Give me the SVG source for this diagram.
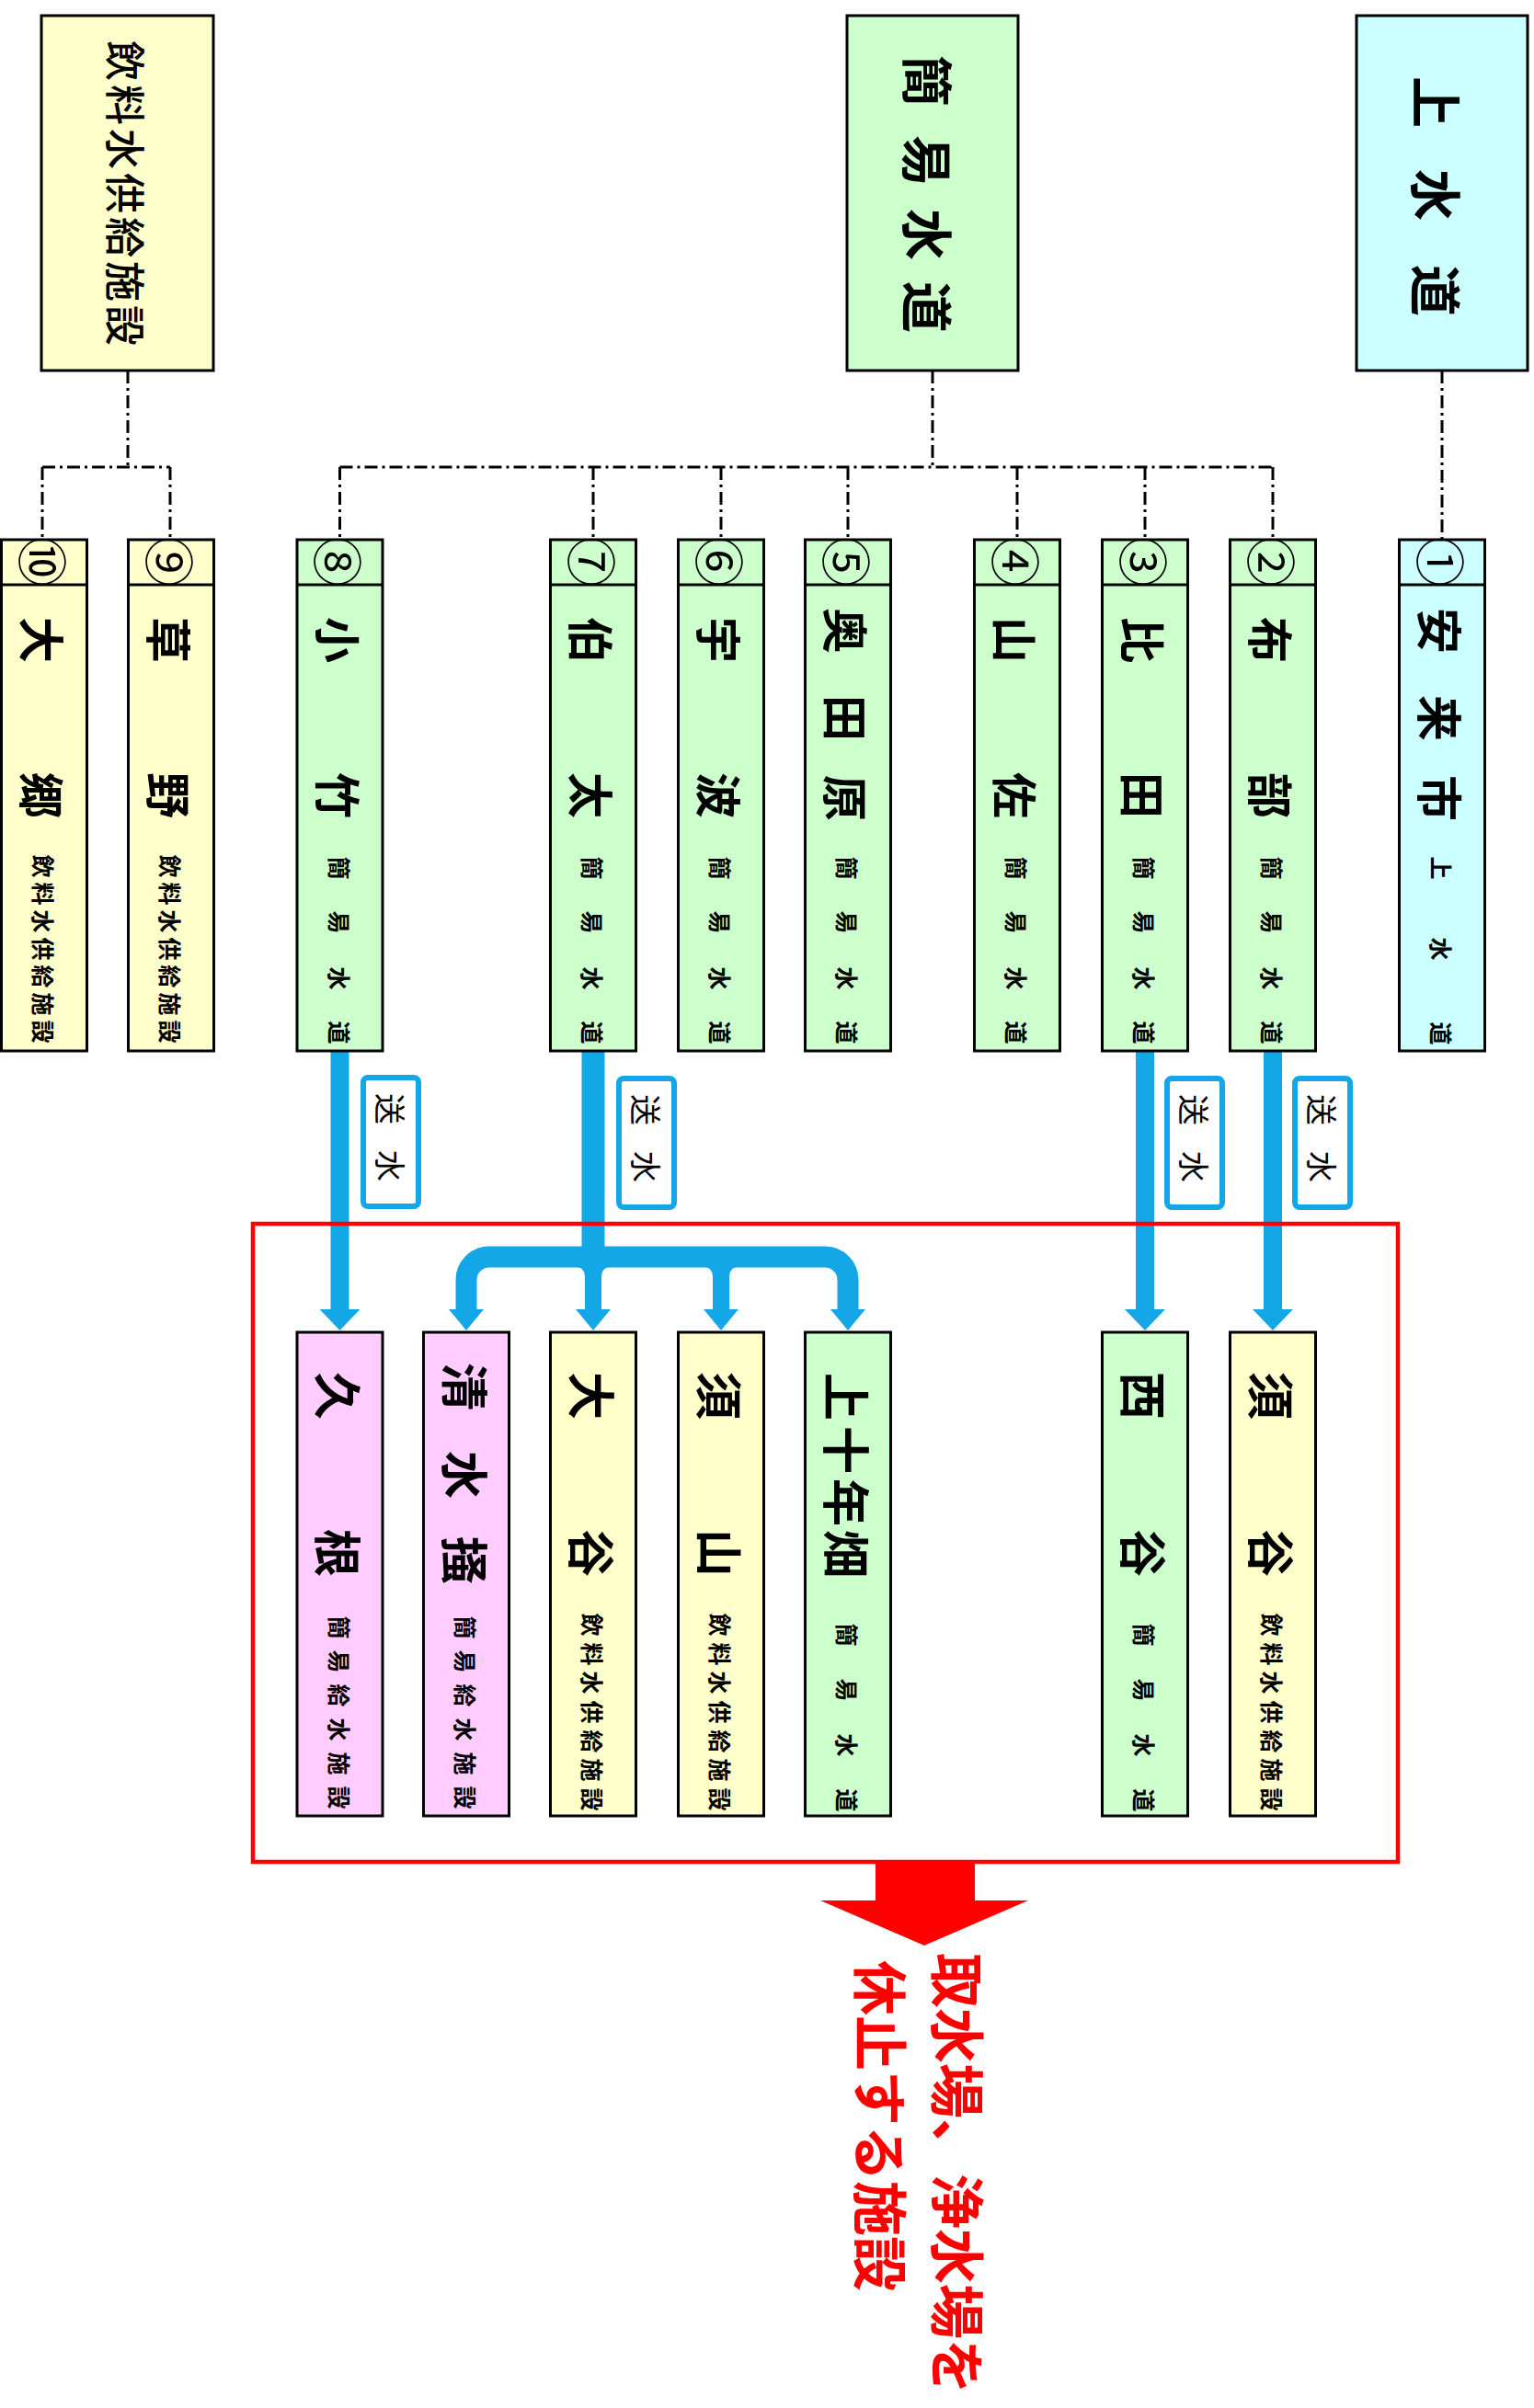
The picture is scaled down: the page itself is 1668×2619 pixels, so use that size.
<svg xmlns="http://www.w3.org/2000/svg" width="1668" height="2619" viewBox="0 0 1668 2619">
<style>
.box{stroke:#000;stroke-width:3}
.y{fill:#FFFFCC}.g{fill:#CCFFCC}.c{fill:#CCFFFF}.p{fill:#FFCCFF}
.div{stroke:#000;stroke-width:3}
.t{font-family:"Noto Sans CJK JP","Noto Sans CJK SC",sans-serif;text-anchor:middle;dominant-baseline:central;fill:#000}
.big{font-size:50px;font-weight:bold}
.big2{font-size:52px;font-weight:bold}
.sm{font-size:25px;font-weight:bold}
.sm2{font-size:25px;font-weight:bold}
.num{font-size:54px}
.dd{fill:none;stroke:#000;stroke-width:3;stroke-dasharray:14 5 3 5}
.bl{fill:none;stroke:#14A7E8}
.bf{fill:#14A7E8}
.sui{fill:#fff;stroke:#14A7E8;stroke-width:6}
.red{fill:#FF0000}
</style>
<rect width="1668" height="2619" fill="#fff"/>

<g id="connectors">
  <path class="dd" d="M139 403 V508 M46 508 H185 M46 508 V587 M185 508 V587"/>
  <path class="dd" d="M1014 403 V508 M369.5 508 H1384 M369.5 508 V587 M645 508 V587 M784 508 V587 M922 508 V587 M1106 508 V587 M1245 508 V587 M1384 508 V587"/>
  <path class="dd" d="M1568 403 V587"/>
  <path class="bl" stroke-width="20" d="M369.5 1143 V1426 M1245 1143 V1426 M1384 1143 V1426"/>
  <path class="bl" stroke-width="25" d="M645 1143 V1368"/>
  <path class="bl" stroke-width="23" d="M507 1426 V1392 A25 25 0 0 1 532 1367 H897 A25 25 0 0 1 922 1392 V1426"/>
  <path class="bf" d="M626 1378 Q636 1378 636 1390 V1426 H654 V1390 Q654 1378 664 1378 Z"/>
  <path class="bf" d="M765 1378 Q775 1378 775 1390 V1426 H793 V1390 Q793 1378 803 1378 Z"/>
  <polygon class="bf" points="347.5,1424 391.5,1424 369.5,1447"/>
  <polygon class="bf" points="1223,1424 1267,1424 1245,1447"/>
  <polygon class="bf" points="1362,1424 1406,1424 1384,1447"/>
  <polygon class="bf" points="488,1424 526,1424 507,1447"/>
  <polygon class="bf" points="626,1424 664,1424 645,1447"/>
  <polygon class="bf" points="765,1424 803,1424 784,1447"/>
  <polygon class="bf" points="903,1424 941,1424 922,1447"/>
</g>

<g id="labels">
  <g id="sousui-8"><rect class="sui" x="395" y="1172" width="60" height="140" rx="5"/><text class="t" style="font-size:34px" transform="translate(425 0) rotate(90)" x="1206 1268">送水</text></g>
  <g id="sousui-7"><rect class="sui" x="673" y="1173" width="60" height="140" rx="5"/><text class="t" style="font-size:34px" transform="translate(703 0) rotate(90)" x="1207 1269">送水</text></g>
  <g id="sousui-3"><rect class="sui" x="1269" y="1173" width="60" height="140" rx="5"/><text class="t" style="font-size:34px" transform="translate(1299 0) rotate(90)" x="1207 1269">送水</text></g>
  <g id="sousui-2"><rect class="sui" x="1408" y="1173" width="60" height="140" rx="5"/><text class="t" style="font-size:34px" transform="translate(1438 0) rotate(90)" x="1207 1269">送水</text></g>
</g>

<g id="top-inryo"><rect class="box y" stroke-width="4" x="45" y="17" width="187" height="386"/><text class="t" style="font-size:44px;font-weight:500" transform="translate(138 0) rotate(90)" x="66 114 162 210 258 306 354">飲料水供給施設</text></g>
<g id="top-kani"><rect class="box g" stroke-width="4" x="921" y="17" width="186" height="386"/><text class="t" style="font-size:56px;font-weight:bold" transform="translate(1011 0) rotate(90)" x="88 175 255 334">簡易水道</text></g>
<g id="top-josui"><rect class="box c" stroke-width="4" x="1475" y="17" width="186" height="386"/><text class="t" style="font-size:56px;font-weight:bold" transform="translate(1564 0) rotate(90)" x="111 212 316">上水道</text></g>

<g id="n1"><rect class="box c" x="1521.5" y="587" width="93" height="556"/><path class="div" d="M1521.5 636 H1614.5"/><text class="t num" transform="translate(1568 0) rotate(90)" x="611">①</text><text class="t big" transform="translate(1568 0) rotate(90)" x="686 781 868">安来市</text><text class="t sm" transform="translate(1568 0) rotate(90)" x="944 1032 1124">上水道</text></g>
<g id="n2"><rect class="box g" x="1337.5" y="587" width="93" height="556"/><path class="div" d="M1337.5 636 H1430.5"/><text class="t num" transform="translate(1384 0) rotate(90)" x="611">②</text><text class="t big" transform="translate(1384 0) rotate(90)" x="696 865">布部</text><text class="t sm" transform="translate(1384 0) rotate(90)" x="944 1003 1064 1123">簡易水道</text></g>
<g id="n3"><rect class="box g" x="1198.5" y="587" width="93" height="556"/><path class="div" d="M1198.5 636 H1291.5"/><text class="t num" transform="translate(1245 0) rotate(90)" x="611">③</text><text class="t big" transform="translate(1245 0) rotate(90)" x="696 865">比田</text><text class="t sm" transform="translate(1245 0) rotate(90)" x="944 1003 1064 1123">簡易水道</text></g>
<g id="n4"><rect class="box g" x="1059.5" y="587" width="93" height="556"/><path class="div" d="M1059.5 636 H1152.5"/><text class="t num" transform="translate(1106 0) rotate(90)" x="611">④</text><text class="t big" transform="translate(1106 0) rotate(90)" x="696 865">山佐</text><text class="t sm" transform="translate(1106 0) rotate(90)" x="944 1003 1064 1123">簡易水道</text></g>
<g id="n5"><rect class="box g" x="875.5" y="587" width="93" height="556"/><path class="div" d="M875.5 636 H968.5"/><text class="t num" transform="translate(922 0) rotate(90)" x="611">⑤</text><text class="t big" transform="translate(922 0) rotate(90)" x="686 781 868">奥田原</text><text class="t sm" transform="translate(922 0) rotate(90)" x="944 1003 1064 1123">簡易水道</text></g>
<g id="n6"><rect class="box g" x="737.5" y="587" width="93" height="556"/><path class="div" d="M737.5 636 H830.5"/><text class="t num" transform="translate(784 0) rotate(90)" x="611">⑥</text><text class="t big" transform="translate(784 0) rotate(90)" x="696 865">宇波</text><text class="t sm" transform="translate(784 0) rotate(90)" x="944 1003 1064 1123">簡易水道</text></g>
<g id="n7"><rect class="box g" x="598.5" y="587" width="93" height="556"/><path class="div" d="M598.5 636 H691.5"/><text class="t num" transform="translate(645 0) rotate(90)" x="611">⑦</text><text class="t big" transform="translate(645 0) rotate(90)" x="696 865">伯太</text><text class="t sm" transform="translate(645 0) rotate(90)" x="944 1003 1064 1123">簡易水道</text></g>
<g id="n8"><rect class="box g" x="323" y="587" width="93" height="556"/><path class="div" d="M323 636 H416"/><text class="t num" transform="translate(369.5 0) rotate(90)" x="611">⑧</text><text class="t big" transform="translate(369.5 0) rotate(90)" x="696 865">小竹</text><text class="t sm" transform="translate(369.5 0) rotate(90)" x="944 1003 1064 1123">簡易水道</text></g>
<g id="n9"><rect class="box y" x="139.5" y="587" width="93" height="556"/><path class="div" d="M139.5 636 H232.5"/><text class="t num" transform="translate(186 0) rotate(90)" x="611">⑨</text><text class="t big" transform="translate(186 0) rotate(90)" x="696 865">草野</text><text class="t sm2" transform="translate(186 0) rotate(90)" x="942 972 1002 1032 1062 1092 1122">飲料水供給施設</text></g>
<g id="n10"><rect class="box y" x="1.5" y="587" width="93" height="556"/><path class="div" d="M1.5 636 H94.5"/><text class="t num" transform="translate(48 0) rotate(90)" x="611">⑩</text><text class="t big" transform="translate(48 0) rotate(90)" x="696 865">大郷</text><text class="t sm2" transform="translate(48 0) rotate(90)" x="942 972 1002 1032 1062 1092 1122">飲料水供給施設</text></g>

<g id="stop-area">
  <rect x="275" y="1331" width="1245" height="694" fill="none" stroke="#FF0000" stroke-width="4.5"/>
  <polygon class="red" points="952,2023 1060,2023 1060,2067 1118,2067 1005,2116 892,2067 952,2067"/>
  <text class="t" style="font-size:60px;font-weight:bold;fill:#FF0000;text-anchor:start" transform="translate(1044 0) rotate(90)" x="2124">取水場、浄水場を</text>
  <text class="t" style="font-size:60px;font-weight:bold;fill:#FF0000;text-anchor:start" transform="translate(960 0) rotate(90)" x="2132">休止する施設</text>
</g>

<g id="kune"><rect class="box p" x="323" y="1449" width="93" height="526"/><text class="t big2" transform="translate(369.5 0) rotate(90)" x="1518 1689">久根</text><text class="t sm2" transform="translate(369.5 0) rotate(90)" x="1770 1807 1844 1881 1918 1955">簡易給水施設</text></g>
<g id="shimizukaki"><rect class="box p" x="460.5" y="1449" width="93" height="526"/><text class="t big2" transform="translate(507 0) rotate(90)" x="1508 1604 1697">清水掻</text><text class="t sm2" transform="translate(507 0) rotate(90)" x="1770 1807 1844 1881 1918 1955">簡易給水施設</text></g>
<g id="otani"><rect class="box y" x="598.5" y="1449" width="93" height="526"/><text class="t big2" transform="translate(645 0) rotate(90)" x="1518 1689">大谷</text><text class="t sm2" transform="translate(645 0) rotate(90)" x="1767 1799 1830 1862 1894 1925 1957">飲料水供給施設</text></g>
<g id="suyama"><rect class="box y" x="737.5" y="1449" width="93" height="526"/><text class="t big2" transform="translate(784 0) rotate(90)" x="1518 1689">須山</text><text class="t sm2" transform="translate(784 0) rotate(90)" x="1767 1799 1830 1862 1894 1925 1957">飲料水供給施設</text></g>
<g id="kamijunenbata"><rect class="box g" x="875.5" y="1449" width="93" height="526"/><text class="t big2" transform="translate(922 0) rotate(90)" x="1519 1577 1634 1690">上十年畑</text><text class="t sm" transform="translate(922 0) rotate(90)" x="1778 1838 1898 1958">簡易水道</text></g>
<g id="nishitani"><rect class="box g" x="1198.5" y="1449" width="93" height="526"/><text class="t big2" transform="translate(1245 0) rotate(90)" x="1518 1689">西谷</text><text class="t sm" transform="translate(1245 0) rotate(90)" x="1778 1838 1898 1958">簡易水道</text></g>
<g id="sudani"><rect class="box y" x="1337.5" y="1449" width="93" height="526"/><text class="t big2" transform="translate(1384 0) rotate(90)" x="1518 1689">須谷</text><text class="t sm2" transform="translate(1384 0) rotate(90)" x="1767 1799 1830 1862 1894 1925 1957">飲料水供給施設</text></g>
</svg>
